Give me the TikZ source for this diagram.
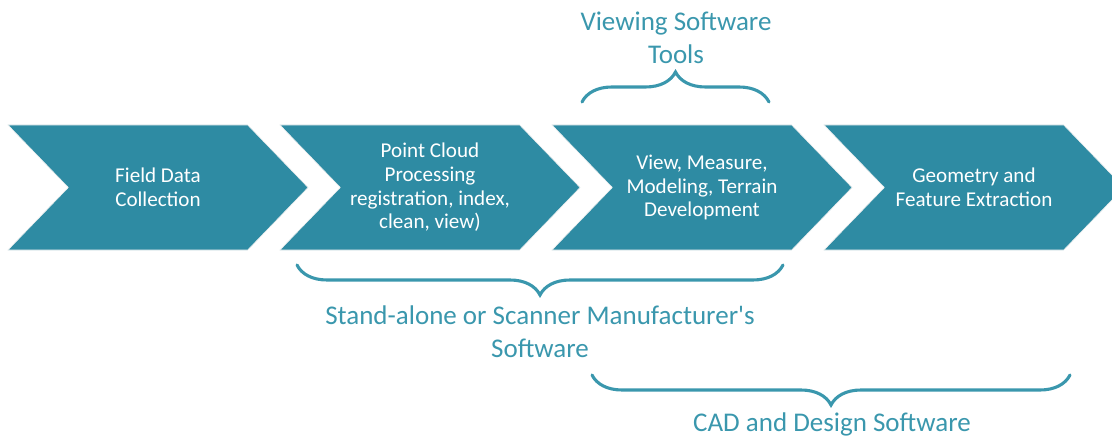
\documentclass[tikz,border=0pt]{standalone}
\usepackage{fontspec}
\setmainfont{Carlito}
\usepackage{xcolor}
\usetikzlibrary{
  shapes.symbols,
  decorations.pathreplacing,
  positioning
}
\definecolor{stepteal}{HTML}{2E8BA3}
\definecolor{labelteal}{HTML}{3A97AD}
\tikzset{
  stagebox/.style={
    shape=signal,
    signal from=west,
    signal to=east,
    signal pointer angle=92,
    fill=stepteal,
    draw=gray!12,
    line width=0.4pt,
    minimum width=7.5cm,
    minimum height=3.125cm,
    inner sep=0pt,
    text=white,
    align=center,
    font=\fontsize{15}{16.8}\selectfont,
  },
  spanbrace/.style={
    draw=labelteal,
    line width=2.2pt,
    line cap=round,
    decorate,
    decoration={brace, amplitude=0.75cm},
  },
  spanlabel/.style={
    text=labelteal,
    align=center,
    inner sep=0pt,
    font=\fontsize{19.2}{23.5}\selectfont,
  },
}

\begin{document}
\begin{tikzpicture}[x=0.025cm, y=-0.025cm]
  \useasboundingbox (0,0) rectangle (1112,438);
  \clip (0,0) rectangle (1112,438);

  % the four processing stages
  \node[stagebox] (field) at (158,187.5) {Field Data\\Collection};
  \node[stagebox] (cloud) at (430,187.5)
    {Point Cloud\\Processing\\registration, index,\\clean, view)};
  \node[stagebox] (view)  at (702,187.5)
    {View, Measure,\\Modeling, Terrain\\Development};
  \node[stagebox] (geom)  at (974,187.5) {Geometry and\\Feature Extraction};

  % brace ends
  \coordinate (vwL) at (582,102);
  \coordinate (vwR) at (769,102);
  \coordinate (saL) at (297,265);
  \coordinate (saR) at (783,265);
  \coordinate (cdL) at (592,375);
  \coordinate (cdR) at (1070,375);

  % software groups
  \draw[spanbrace] (vwL) -- (vwR);
  \node[spanlabel] (vwtext) at (676,38) {Viewing Software\\Tools};

  \draw[spanbrace] (saR) -- (saL);
  \node[spanlabel] (satext) at (540,332)
    {Stand-alone or Scanner Manufacturer\textquotesingle s\\Software};

  \draw[spanbrace] (cdR) -- (cdL);
  \node[spanlabel] (cdtext) at (832,424) {CAD and Design Software};
\end{tikzpicture}
\end{document}
